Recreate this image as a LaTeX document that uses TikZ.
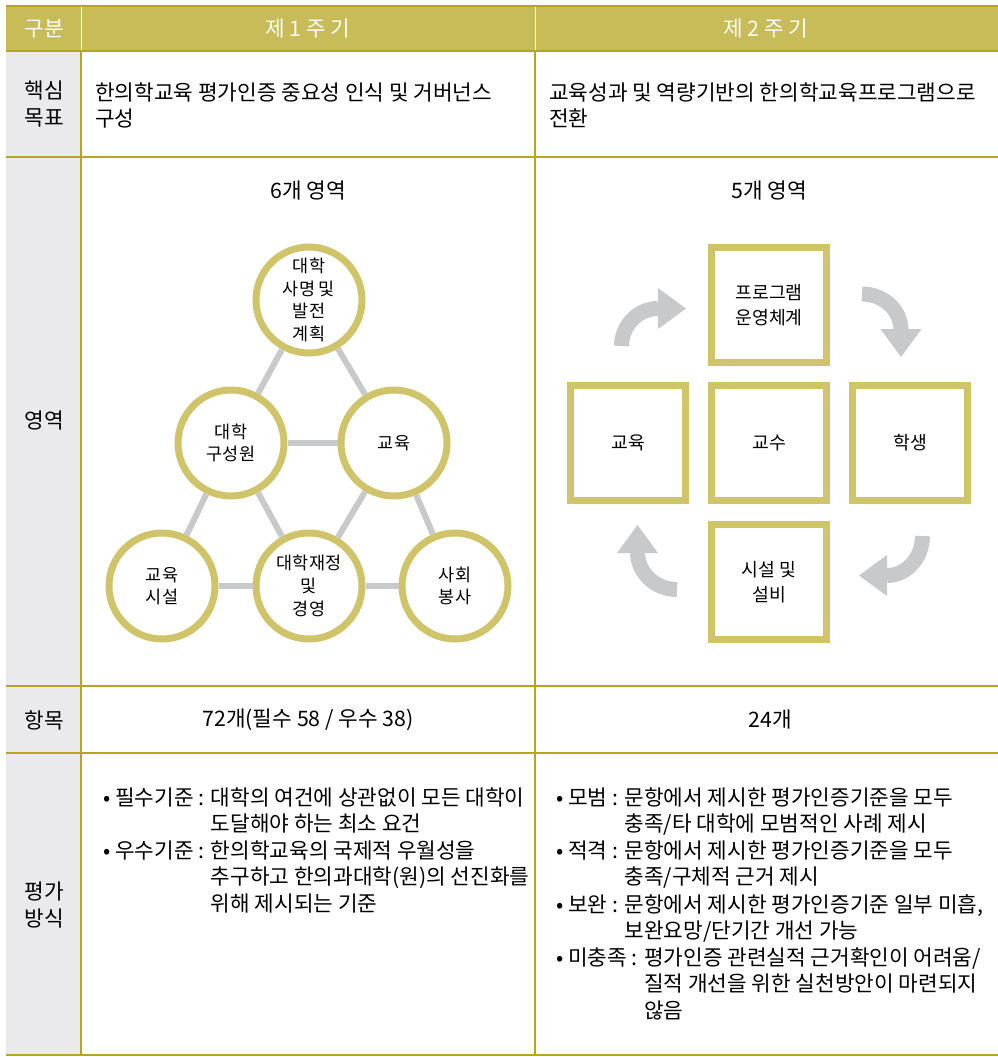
\documentclass[tikz,border=0pt]{standalone}
\usepackage{fontspec}
\setmainfont{Noto Sans CJK KR}
\usepackage{xcolor}
\definecolor{olivefill}{RGB}{199,188,88}
\definecolor{oliveline}{RGB}{181,166,28}
\definecolor{oliveframe}{RGB}{208,196,106}
\definecolor{cellgray}{RGB}{234,234,236}
\definecolor{linkgray}{RGB}{200,201,203}
\usetikzlibrary{arrows.meta}
\newcommand{\bodysize}{\fontsize{16}{20}\selectfont}
\newcommand{\ringsize}{\fontsize{13.1}{17}\selectfont}
\newcommand{\boxsize}{\fontsize{13.7}{19}\selectfont}
\tikzset{
    head/.style={text=white, font=\bodysize},
    rowlabel/.style={align=center, font=\bodysize},
    cell/.style={anchor=base west, inner sep=0pt, font=\bodysize},
    plain/.style={font=\bodysize},
    gridline/.style={draw=oliveline, line width=1pt},
    area/.style={circle, draw=oliveframe, line width=5.25pt, fill=white, minimum size=79.5pt, inner sep=0pt, align=center, font=\ringsize},
    unit/.style={rectangle, draw=oliveframe, line width=4.9pt, fill=white, minimum size=85.9pt, inner sep=0pt, align=center, font=\boxsize},
    link/.style={draw=linkgray, line width=4.5pt},
    turn/.style={draw=linkgray, line width=11.25pt, -{Triangle[length=21pt, width=30.75pt, line width=0pt]}}
}

\begin{document}
\begin{tikzpicture}[x=0.75pt, y=-0.75pt]
\useasboundingbox (0,0) rectangle (998,1057);
% table frame
\fill[olivefill] (6,7) rectangle (998,51);
\fill[cellgray] (6,51) rectangle (81,1055);
\draw[oliveline, line width=1.5pt] (6,6) -- (998,6);
\draw[oliveline, line width=1.5pt] (6,51) -- (998,51);
\foreach \yrow in {157,686,753}
    \draw[gridline] (6,\yrow) -- (998,\yrow);
\draw[oliveline, line width=1.2pt] (6,1055) -- (998,1055);
\draw[gridline] (81,52) -- (81,1055);
\draw[gridline] (535,52) -- (535,1055);
\draw[white, line width=0.75pt] (81,7) -- (81,50);
\draw[white, line width=0.75pt] (535,7) -- (535,50);

% header and first column
\node[head] (hdkind) at (44,29) {구분};
\node[head] (hdfirst) at (308,29) {제 1 주 기};
\node[head] (hdsecond) at (766,29) {제 2 주 기};
\node[rowlabel] (lbgoal) at (44,104) {핵심\\목표};
\node[rowlabel] (lbarea) at (44,421) {영역};
\node[rowlabel] (lbitem) at (44,720) {항목};
\node[rowlabel] (lbeval) at (44,905) {평가\\방식};

% goals
\node[cell] (goalfirst) at (95,100) {\begin{tabular}[t]{@{}l@{}}한의학교육 평가인증 중요성 인식 및 거버넌스\\구성\end{tabular}};
\node[cell] (goalsecond) at (549,100) {\begin{tabular}[t]{@{}l@{}}교육성과 및 역량기반의 한의학교육프로그램으로\\전환\end{tabular}};

% areas, first cycle
\node[plain] (countfirst) at (308,191) {6개 영역};
\node[area] (mission) at (309,300) {대학\\사명 및\\발전\\계획};
\node[area] (members) at (231,443) {대학\\구성원};
\node[area] (eduA) at (394,443) {교육};
\node[area] (facilA) at (162,586) {교육\\시설};
\node[area] (finance) at (309,586) {대학재정\\및\\경영};
\node[area] (service) at (455,586) {사회\\봉사};
\foreach \a/\b in {mission/members, mission/eduA, members/eduA, members/facilA, members/finance, eduA/finance, eduA/service, facilA/finance, finance/service}
    \draw[link] (\a) -- (\b);

% areas, second cycle
\node[plain] (countsecond) at (769,191) {5개 영역};
\node[unit] (program) at (769,305) {프로그램\\운영체계};
\node[unit] (eduB) at (628,443) {교육};
\node[unit] (faculty) at (769,443) {교수};
\node[unit] (student) at (910,443) {학생};
\node[unit] (facilB) at (769,582) {시설 및\\설비};
\coordinate (nwfrom) at (621.5,346);
\coordinate (nwto) at (686,308.5);
\coordinate (nefrom) at (862,294);
\coordinate (neto) at (901,357);
\coordinate (sefrom) at (922.5,536);
\coordinate (seto) at (859,575.5);
\coordinate (swfrom) at (677,589.5);
\coordinate (swto) at (637.5,525);
\draw[turn] (nwfrom) .. controls (621.5,325.8) and (637.8,308.5) .. (658,308.5) -- (nwto);
\draw[turn] (nefrom) .. controls (883.5,294) and (901,310) .. (901,330) -- (neto);
\draw[turn] (sefrom) .. controls (922.5,557.8) and (906.6,575.5) .. (887,575.5) -- (seto);
\draw[turn] (swfrom) .. controls (655.2,589.5) and (637.5,572.7) .. (637.5,552) -- (swto);

% items
\node[plain] (itemfirst) at (308,720) {72개(필수 58 / 우수 38)};
\node[plain] (itemsecond) at (770,720) {24개};

% evaluation
\node[cell] (mustA) at (103,805) {\begin{tabular}[t]{@{}l@{ }l@{}}• 필수기준 : & 대학의 여건에 상관없이 모든 대학이\\ & 도달해야 하는 최소 요건\end{tabular}};
\node[cell] (bestA) at (103,858) {\begin{tabular}[t]{@{}l@{ }l@{}}• 우수기준 : & 한의학교육의 국제적 우월성을\\ & 추구하고 한의과대학(원)의 선진화를\\ & 위해 제시되는 기준\end{tabular}};
\node[cell] (modelB) at (556,805) {\begin{tabular}[t]{@{}l@{ }l@{}}• 모범 : & 문항에서 제시한 평가인증기준을 모두\\ & 충족/타 대학에 모범적인 사례 제시\end{tabular}};
\node[cell] (fitB) at (556,858) {\begin{tabular}[t]{@{}l@{ }l@{}}• 적격 : & 문항에서 제시한 평가인증기준을 모두\\ & 충족/구체적 근거 제시\end{tabular}};
\node[cell] (patchB) at (556,912) {\begin{tabular}[t]{@{}l@{ }l@{}}• 보완 : & 문항에서 제시한 평가인증기준 일부 미흡,\\ & 보완요망/단기간 개선 가능\end{tabular}};
\node[cell] (failB) at (556,965) {\begin{tabular}[t]{@{}l@{ }l@{}}• 미충족 : & 평가인증 관련실적 근거확인이 어려움/\\ & 질적 개선을 위한 실천방안이 마련되지\\ & 않음\end{tabular}};
\end{tikzpicture}
\end{document}
